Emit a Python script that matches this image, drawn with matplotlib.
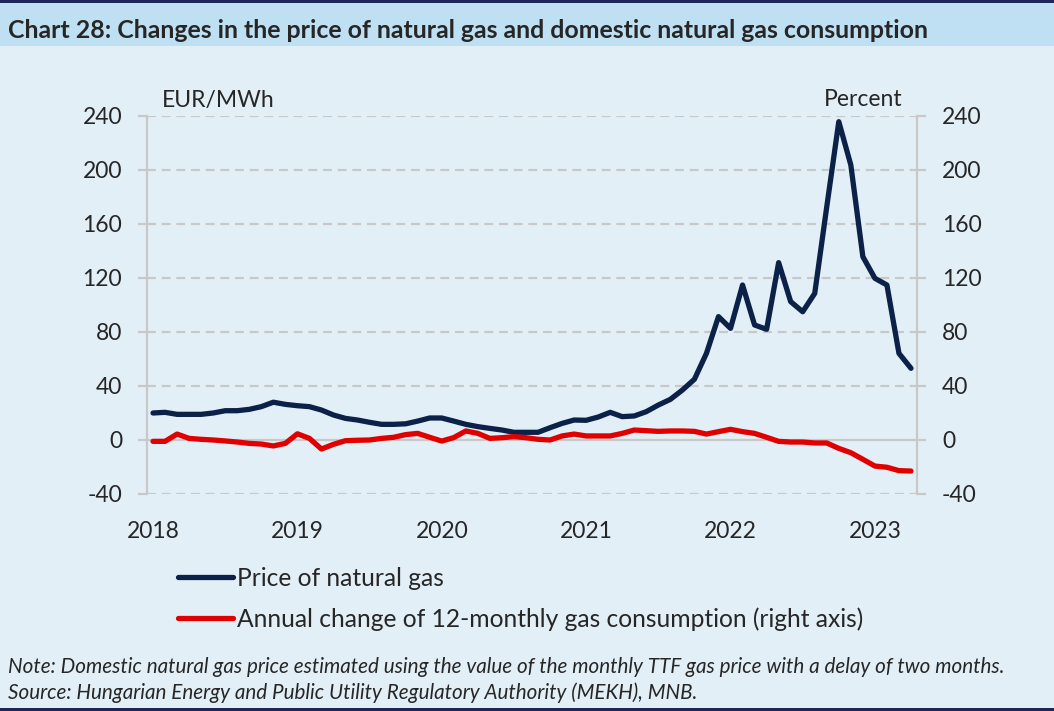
import matplotlib
matplotlib.use("Agg")
import matplotlib.pyplot as plt
import numpy as np
import pandas as pd
from matplotlib.patches import Rectangle

# ---- data (monthly, Jan 2018 .. Apr 2023) ----
months = pd.date_range("2018-01-01", "2023-04-01", freq="MS")
price = [20, 20.5, 19, 19, 19, 20, 21.7, 21.7, 22.7, 24.7, 28, 26.4,
         25.4, 24.7, 22.2, 18.5, 16, 14.8, 13.1, 11.6, 11.6, 12, 14, 16.3,
         16.3, 14, 11.6, 9.9, 8.6, 7.4, 5.7, 5.7, 5.7, 9.1, 12.3, 14.8,
         14.6, 17, 20.5, 17.3, 17.8, 21, 25.9, 30.1, 37, 45, 64.2, 91.4,
         82.7, 114.8, 85.2, 82, 131.4, 102.5, 95, 108.6, 172.8, 235.8, 203.7, 135.8,
         119.8, 114.8, 64.2, 53.1]
consumption = [-1, -1, 4.4, 1.2, 0.5, 0, -0.7, -1.5, -2.5, -3, -4.4, -2.5,
               4.6, 1.2, -6.7, -3.2, -0.5, -0.2, 0, 1.2, 2, 4, 4.9, 2,
               -0.8, 1.8, 6.7, 4.9, 1.2, 1.7, 2.5, 1.7, 0.5, 0, 3, 4.4,
               3, 3, 3, 4.9, 7.4, 6.9, 6.4, 6.7, 6.7, 6.4, 4.4, 6.2,
               7.9, 6.2, 4.9, 2, -1, -1.5, -1.5, -2.2, -2.2, -6.2, -9.4, -14.3,
               -19.3, -20.2, -22.7, -23]
y_ticks = [-40, 0, 40, 80, 120, 160, 200, 240]
series_names = ["Price of natural gas",
                "Annual change of 12-monthly gas consumption (right axis)"]
title = "Chart 28: Changes in the price of natural gas and domestic natural gas consumption"
note = "Note: Domestic natural gas price estimated using the value of the monthly TTF gas price with a delay of two months."
source = "Source: Hungarian Energy and Public Utility Regulatory Authority (MEKH), MNB."

# ---- style ----
BG = "#e3eff7"
BAND = "#bfe0f2"
BORDER = "#1c2657"
NAVY = "#0c2148"
RED = "#e00000"
GRID = "#c8c8c8"
TXT = "#262626"
FONT = "Lato"
FS = 16.5

plt.rcParams["font.family"] = [FONT, "DejaVu Sans"]

W, H = 1054, 711
fig = plt.figure(figsize=(W / 100, H / 100), dpi=100, facecolor=BG)

# background bands
fig.patches.append(Rectangle((0, 1 - 46 / H), 1, 43 / H, transform=fig.transFigure,
                             facecolor=BAND, edgecolor="none", zorder=0))
fig.patches.append(Rectangle((0, 1 - 3 / H), 1, 3 / H, transform=fig.transFigure,
                             facecolor=BORDER, edgecolor="none", zorder=0))
fig.patches.append(Rectangle((0, 0), 1, 3 / H, transform=fig.transFigure,
                             facecolor=BORDER, edgecolor="none", zorder=0))

fig.text(8 / W, 1 - 30 / H, title, fontsize=17.9, fontweight="bold", color=TXT,
         ha="left", va="center")

x = np.arange(len(months))
left, right, top, bottom = 147, 917, 116, 494
ax = fig.add_axes([left / W, 1 - bottom / H, (right - left) / W, (bottom - top) / H])
ax.set_facecolor("none")
ax2 = ax.twinx()

ax.set_xlim(-0.5, len(months) - 0.5)
ax.set_ylim(-40, 240)
ax2.set_ylim(-40, 240)

for yv in y_ticks:
    if yv == 0:
        ax.axhline(yv, color=GRID, lw=1.6, zorder=1)
    else:
        ax.axhline(yv, color=GRID, lw=1.6, ls=(0, (4, 2.6)), zorder=1)

l1, = ax.plot(x, price, color=NAVY, lw=3.8, solid_joinstyle="round",
              solid_capstyle="round", zorder=3, label=series_names[0])
l2, = ax2.plot(x, consumption, color=RED, lw=3.8, solid_joinstyle="round",
               solid_capstyle="round", zorder=3, label=series_names[1])

year_pos = [i for i, d in enumerate(months) if d.month == 1]
year_lab = [str(months[i].year) for i in year_pos]
ax.set_xticks(year_pos)
ax.set_xticklabels(year_lab)
ax.tick_params(axis="x", length=0, pad=19.5, labelsize=FS, labelcolor=TXT)

for a, side in ((ax, "left"), (ax2, "right")):
    a.set_yticks(y_ticks)
    a.set_yticklabels([str(v) for v in y_ticks])
    a.tick_params(axis="y", length=6.5, width=1.6, color=GRID, pad=11.5,
                  labelsize=FS, labelcolor=TXT)
    for s in ("top", "bottom", "left", "right"):
        a.spines[s].set_visible(False)
    a.spines[side].set_visible(True)
    a.spines[side].set_color(GRID)
    a.spines[side].set_linewidth(1.6)

fig.text(162 / W, 1 - 100 / H, "EUR/MWh", fontsize=FS, color=TXT, ha="left", va="center")
fig.text(903 / W, 1 - 100 / H, "Percent", fontsize=FS, color=TXT, ha="right", va="center")

LFS = 17.7
fig.legend(handles=[l1, l2], labels=series_names, loc="upper left",
           bbox_to_anchor=(178 / W, 1 - 567 / H), frameon=False, fontsize=LFS,
           handlelength=2.24, handletextpad=0.15, labelspacing=0.70,
           borderpad=0, borderaxespad=0, labelcolor=TXT)

fig.text(8 / W, 1 - 667 / H, note, fontsize=14.9, style="italic", color=TXT,
         ha="left", va="center")
fig.text(8 / W, 1 - 693 / H, source, fontsize=14.9, style="italic", color=TXT,
         ha="left", va="center")

fig.savefig("out.png", dpi=100, facecolor=BG)
